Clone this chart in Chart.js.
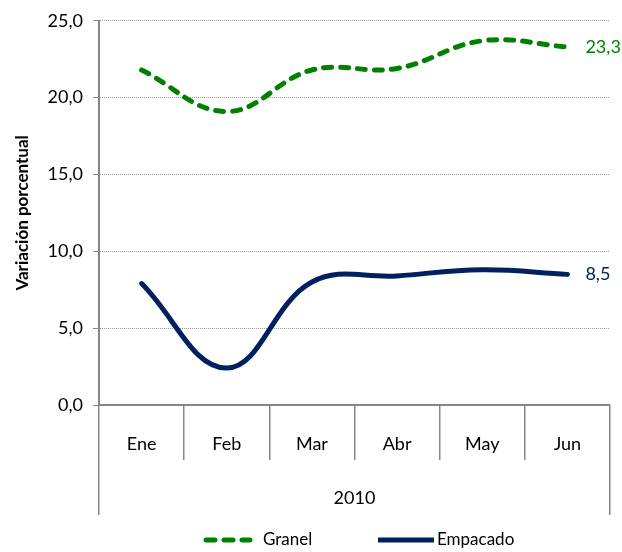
<!DOCTYPE html>
<html>
<head>
<meta charset="utf-8">
<script src="https://cdn.jsdelivr.net/npm/chart.js@4"></script>
<style>
  html, body { margin: 0; padding: 0; background: #fff; }
  #wrap { width: 622px; height: 552px; position: relative; }
</style>
</head>
<body>
<div id="wrap"><canvas id="c"></canvas></div>
<script>
const months = ['Ene', 'Feb', 'Mar', 'Abr', 'May', 'Jun'];
const years = ['2010'];
const granel = [21.8, 19.1, 21.8, 21.9, 23.7, 23.3];
const empacado = [7.9, 2.4, 8.0, 8.4, 8.8, 8.5];
const yTicks = [0, 5, 10, 15, 20, 25];

const GREEN = '#008000';
const NAVY = '#002060';
const AXIS = '#868686';
const FONT = 'Lato, "Open Sans", sans-serif';

const fmt = v => Number(v).toFixed(1).replace('.', ',');

// last value of each series, written just right of the line end
const endLabels = {
    id: 'endLabels',
    afterDatasetsDraw(chart) {
        const ctx = chart.ctx;
        ctx.save();
        ctx.font = '18px ' + FONT;
        ctx.textAlign = 'left';
        ctx.textBaseline = 'middle';
        chart.data.datasets.forEach((ds, i) => {
            const pts = chart.getDatasetMeta(i).data;
            const last = pts[pts.length - 1];
            ctx.fillStyle = ds.borderColor;
            ctx.fillText(fmt(ds.data[ds.data.length - 1]), last.x + 18, last.y);
        });
        ctx.restore();
    }
};

// line-sample legend under the axes
const lineLegend = {
    id: 'lineLegend',
    afterDraw(chart) {
        const ctx = chart.ctx;
        const y = chart.height - 12;
        const slots = [{ x: 203, len: 50, gap: 10 }, { x: 378, len: 56, gap: 3 }];
        ctx.save();
        ctx.font = '17px ' + FONT;
        ctx.textBaseline = 'middle';
        chart.data.datasets.forEach((ds, i) => {
            const s = slots[i];
            const dashed = !!ds.borderDash;
            ctx.strokeStyle = ds.borderColor;
            ctx.lineWidth = 5;
            ctx.lineCap = dashed ? 'round' : 'butt';
            ctx.setLineDash(dashed ? [9, 9] : []);
            ctx.beginPath();
            ctx.moveTo(s.x + (dashed ? 3 : 0), y);
            ctx.lineTo(s.x + s.len - (dashed ? 3 : 0), y);
            ctx.stroke();
            ctx.fillStyle = '#000';
            ctx.fillText(ds.label, s.x + s.len + s.gap, y);
        });
        ctx.restore();
    }
};

new Chart(document.getElementById('c'), {
    type: 'line',
    data: {
        labels: months,
        datasets: [{
            label: 'Granel',
            data: granel,
            borderColor: GREEN,
            backgroundColor: GREEN,
            borderWidth: 5,
            borderDash: [8, 9],
            borderCapStyle: 'round',
            tension: 0.4,
            pointRadius: 0,
            fill: false
        }, {
            label: 'Empacado',
            data: empacado,
            borderColor: NAVY,
            backgroundColor: NAVY,
            borderWidth: 5,
            borderCapStyle: 'round',
            tension: 0.4,
            pointRadius: 0,
            fill: false
        }]
    },
    options: {
        responsive: true,
        maintainAspectRatio: false,
        animation: false,
        layout: { padding: { top: 20, right: 12, left: 0, bottom: 37 } },
        plugins: {
            legend: { display: false },
            tooltip: { enabled: false }
        },
        scales: {
            x: {
                type: 'category',
                labels: months,
                position: 'bottom',
                offset: true,
                afterFit(axis) { axis.height = 55; },
                grid: {
                    offset: true,
                    drawOnChartArea: false,
                    color: AXIS,
                    tickLength: 55,
                    lineWidth: 1.5
                },
                border: { display: true, color: AXIS, width: 2 },
                ticks: {
                    color: '#000',
                    padding: -27,
                    font: { family: FONT, size: 18 }
                }
            },
            x2: {
                type: 'category',
                labels: years,
                position: 'bottom',
                offset: true,
                afterFit(axis) { axis.height = 55; },
                grid: {
                    offset: true,
                    drawOnChartArea: false,
                    color: AXIS,
                    tickLength: 55,
                    lineWidth: 1.5
                },
                border: { display: false },
                ticks: {
                    color: '#000',
                    padding: -28,
                    font: { family: FONT, size: 18 }
                }
            },
            y: {
                min: 0,
                max: 25,
                afterBuildTicks(axis) {
                    axis.ticks = yTicks.map(v => ({ value: v }));
                },
                afterFit(axis) { axis.width = 99; },
                grid: {
                    color: '#9a9a9a',
                    tickColor: AXIS,
                    tickLength: 6,
                    tickBorderDash: [],
                    lineWidth: 1
                },
                border: { display: true, color: AXIS, width: 2, dash: [1, 1] },
                ticks: {
                    color: '#000',
                    padding: 10,
                    font: { family: FONT, size: 18 },
                    callback: v => fmt(v)
                },
                title: {
                    display: true,
                    text: 'Variación porcentual',
                    color: '#000',
                    font: { family: FONT, size: 17, weight: 'bold' },
                    padding: { top: 12, bottom: 0 }
                }
            }
        }
    },
    plugins: [endLabels, lineLegend]
});
</script>
</body>
</html>
